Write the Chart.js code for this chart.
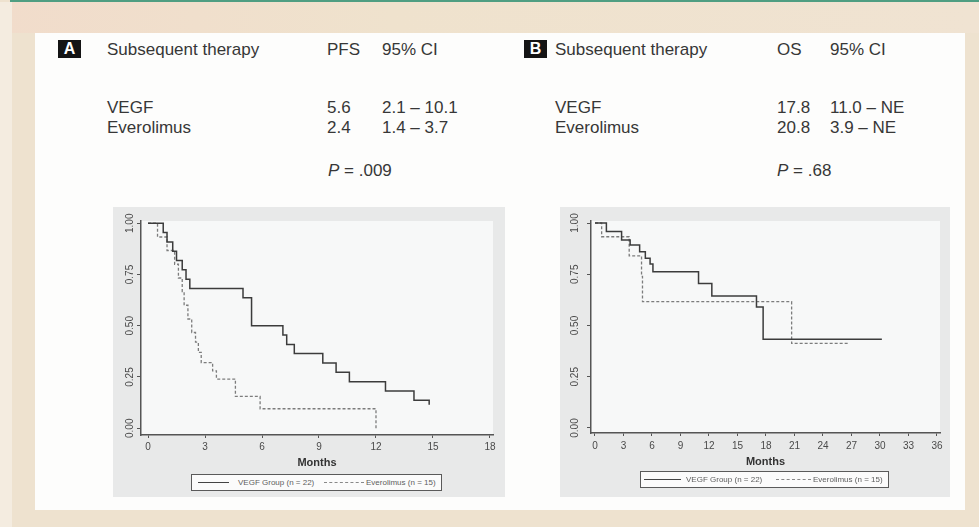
<!DOCTYPE html>
<html>
<head>
<meta charset="utf-8">
<script src="https://cdn.jsdelivr.net/npm/chart.js@4.4.1/dist/chart.umd.min.js"></script>
<style>
  html, body { margin: 0; padding: 0; }
  body {
    width: 979px; height: 527px; position: relative; overflow: hidden;
    background: #eee2cf; font-family: "Liberation Sans", Arial, sans-serif;
  }
  #topline { position: absolute; left: 10px; top: 0; width: 969px; height: 2px; background: #4f9e82; }
  #band { position: absolute; left: 0; top: 2px; width: 979px; height: 31px; background: linear-gradient(90deg, #f1dccb, #efe2cd 40%, #f0e3d2); }
  #strip { position: absolute; left: 0; top: 2px; width: 12px; height: 525px; background: #f4ece0; }
  #panel { position: absolute; left: 35px; top: 33px; width: 930px; height: 477px; background: #fdfdfc; }
  .t { position: absolute; font-size: 17px; line-height: 18px; color: #373737; white-space: nowrap; }
  .tag { position: absolute; height: 18px; background: #141414; color: #fff;
         font-weight: bold; font-size: 16px; line-height: 18px; text-align: center; }
  canvas { position: absolute; }
  .legend { position: absolute; height: 15px; border: 1px solid #5a5a5a; background: #fbfbfb; }
  .legend span { position: absolute; top: 0; font-size: 8px; line-height: 15px; color: #5e5e5e; white-space: nowrap; }
  .legend i { position: absolute; top: 7px; height: 0; }
</style>
</head>
<body>
<div id="topline"></div>
<div id="band"></div>
<div id="strip"></div>
<div id="panel"></div>

<!-- panel A header table -->
<div class="tag" style="left:58px;top:40px;width:23px;">A</div>
<div class="t" style="left:107px;top:41px;">Subsequent therapy</div>
<div class="t" style="left:327px;top:41px;">PFS</div>
<div class="t" style="left:382px;top:41px;">95% CI</div>
<div class="t" style="left:107px;top:99px;">VEGF</div>
<div class="t" style="left:327px;top:99px;">5.6</div>
<div class="t" style="left:382px;top:99px;">2.1 – 10.1</div>
<div class="t" style="left:107px;top:119px;">Everolimus</div>
<div class="t" style="left:327px;top:119px;">2.4</div>
<div class="t" style="left:382px;top:119px;">1.4 – 3.7</div>
<div class="t" style="left:328px;top:162px;"><i>P</i> = .009</div>

<!-- panel B header table -->
<div class="tag" style="left:524px;top:40px;width:23px;">B</div>
<div class="t" style="left:555px;top:41px;">Subsequent therapy</div>
<div class="t" style="left:777px;top:41px;">OS</div>
<div class="t" style="left:830px;top:41px;">95% CI</div>
<div class="t" style="left:555px;top:99px;">VEGF</div>
<div class="t" style="left:777px;top:99px;">17.8</div>
<div class="t" style="left:830px;top:99px;">11.0 – NE</div>
<div class="t" style="left:555px;top:119px;">Everolimus</div>
<div class="t" style="left:777px;top:119px;">20.8</div>
<div class="t" style="left:830px;top:119px;">3.9 – NE</div>
<div class="t" style="left:777px;top:162px;"><i>P</i> = .68</div>

<canvas id="pfs" width="392" height="290" style="left:113px;top:207px;background:#e8e9e9;"></canvas>
<canvas id="os" width="390" height="290" style="left:560px;top:207px;background:#e8e9e9;"></canvas>

<div class="legend" id="legPfs" style="left:191px;top:474px;width:249px;"></div>
<div class="legend" id="legOs" style="left:640px;top:471px;width:247px;"></div>

<script>
// Kaplan–Meier step estimates: event times (months) and survival probability after each step
const pfsVegfMonths  = [0, 0.8, 1.0, 1.3, 1.5, 1.8, 2.0, 2.2, 5.0, 5.45, 7.1, 7.3, 7.7, 9.2, 9.9, 10.6, 12.5, 14.0, 14.8];
const pfsVegfSurv    = [1.00, 0.955, 0.909, 0.864, 0.818, 0.773, 0.727, 0.682, 0.636, 0.500, 0.455, 0.409, 0.364, 0.318, 0.273, 0.227, 0.182, 0.136, 0.114];
const pfsEveroMonths = [0, 0.5, 1.0, 1.4, 1.6, 1.8, 1.9, 2.1, 2.3, 2.5, 2.65, 2.8, 3.4, 3.6, 4.6, 5.9, 12.0];
const pfsEveroSurv   = [1.00, 0.933, 0.867, 0.800, 0.733, 0.667, 0.600, 0.533, 0.467, 0.420, 0.370, 0.320, 0.280, 0.240, 0.155, 0.095, 0.000];

const osVegfMonths   = [0, 1.2, 2.8, 3.7, 4.7, 5.3, 5.8, 6.1, 10.9, 12.3, 17.0, 17.7, 30.2];
const osVegfSurv     = [1.00, 0.958, 0.917, 0.893, 0.860, 0.828, 0.800, 0.762, 0.705, 0.644, 0.590, 0.433, 0.433];
const osEveroMonths  = [0, 0.7, 3.6, 4.9, 5.0, 20.7, 26.7];
const osEveroSurv    = [1.00, 0.933, 0.840, 0.740, 0.616, 0.413, 0.413];

// axis ticks and legend text
const pfsMonthTicks = [0, 3, 6, 9, 12, 15, 18];
const osMonthTicks  = [0, 3, 6, 9, 12, 15, 18, 21, 24, 27, 30, 33, 36];
const survivalTicks = [0, 0.25, 0.5, 0.75, 1];
const groupLabels   = ['VEGF Group (n = 22)', 'Everolimus (n = 15)'];

const toPoints = (xs, ys) => xs.map((x, i) => ({ x: x, y: ys[i] }));

// light plot region behind the curves
const plotRegion = {
  id: 'plotRegion',
  beforeDraw(chart) {
    const { ctx, chartArea: a } = chart;
    ctx.save();
    ctx.fillStyle = '#f7f8f8';
    ctx.fillRect(a.left, a.top, a.right - a.left, a.bottom - a.top);
    ctx.restore();
  }
};

const tickFont = { family: '"Liberation Sans", Arial, sans-serif', size: 10 };
const axisColor = '#555';

function kmChart(id, cfg) {
  return new Chart(document.getElementById(id), {
    type: 'line',
    data: {
      datasets: [
        { label: groupLabels[0], data: cfg.solid, stepped: 'before', borderColor: '#3c3c3c',
          borderWidth: 1.5, pointRadius: 0, fill: false },
        { label: groupLabels[1], data: cfg.dashed, stepped: 'before', borderColor: '#7c7c7c',
          borderWidth: 1.3, borderDash: [3, 2], pointRadius: 0, fill: false }
      ]
    },
    options: {
      responsive: false,
      animation: false,
      layout: { padding: { left: 0, right: cfg.padRight, top: 14, bottom: 0 } },
      plugins: { legend: { display: false }, tooltip: { enabled: false } },
      scales: {
        x: {
          type: 'linear', min: cfg.xMin, max: cfg.xMax,
          afterBuildTicks: s => { s.ticks = cfg.xTicks.map(v => ({ value: v })); },
          afterFit: s => { s.height = cfg.xHeight; },
          border: { display: true, color: axisColor, width: 1.5 },
          grid: { drawOnChartArea: false, drawTicks: true, tickLength: 3, color: axisColor, lineWidth: 1 },
          ticks: { font: tickFont, color: '#4a4a4a', padding: cfg.xPad, maxRotation: 0, autoSkip: false,
                   callback: v => String(v) },
          title: { display: true, text: 'Months', color: '#333',
                   font: { family: '"Liberation Sans", Arial, sans-serif', size: 11, weight: 'bold' },
                   padding: { top: 0, bottom: cfg.titlePad } }
        },
        y: {
          type: 'linear', min: cfg.yMin, max: cfg.yMax,
          afterBuildTicks: s => { s.ticks = survivalTicks.map(v => ({ value: v })); },
          afterFit: s => { s.width = cfg.yWidth; },
          border: { display: true, color: axisColor, width: 1.5 },
          grid: { drawOnChartArea: false, drawTicks: true, tickLength: 4, color: axisColor, lineWidth: 1 },
          ticks: { font: tickFont, color: '#4a4a4a', minRotation: 90, maxRotation: 90,
                   crossAlign: 'center', padding: cfg.yPad, autoSkip: false,
                   callback: v => v.toFixed(2) }
        }
      }
    },
    plugins: [plotRegion]
  });
}

kmChart('pfs', {
  solid: toPoints(pfsVegfMonths, pfsVegfSurv),
  dashed: toPoints(pfsEveroMonths, pfsEveroSurv),
  xTicks: pfsMonthTicks,
  xMin: -0.37, xMax: 18.16, yMin: -0.033, yMax: 1.011,
  padRight: 12, xHeight: 62, yWidth: 28, xPad: 3, yPad: -2.7, titlePad: 27.4
});

kmChart('os', {
  solid: toPoints(osVegfMonths, osVegfSurv),
  dashed: toPoints(osEveroMonths, osEveroSurv),
  xTicks: osMonthTicks,
  xMin: -0.42, xMax: 36.32, yMin: -0.0244, yMax: 1.0098,
  padRight: 10, xHeight: 64, yWidth: 31, xPad: 4.7, yPad: 2.3, titlePad: 28.7
});

// boxed legends under each plot
function buildLegend(id, layout) {
  const box = document.getElementById(id);
  const styles = ['1px solid #444', '1px dashed #888'];
  groupLabels.forEach((label, i) => {
    const line = document.createElement('i');
    line.style.left = layout.line[i][0] + 'px';
    line.style.width = layout.line[i][1] + 'px';
    line.style.borderTop = styles[i];
    box.appendChild(line);
    const txt = document.createElement('span');
    txt.style.left = layout.text[i] + 'px';
    txt.textContent = label;
    box.appendChild(txt);
  });
}
buildLegend('legPfs', { line: [[6, 31], [132, 40]], text: [46, 174] });
buildLegend('legOs',  { line: [[3, 37], [135, 35]], text: [45, 172] });
</script>
</body>
</html>
